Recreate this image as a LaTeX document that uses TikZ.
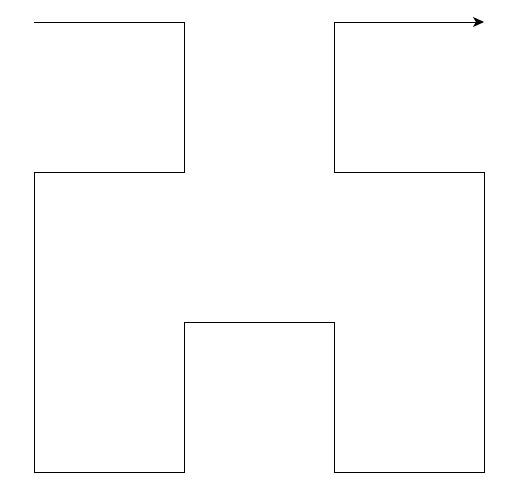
\documentclass[tikz,border=0pt]{standalone}
\usetikzlibrary{arrows.meta}
\begin{document}
\begin{tikzpicture}[x=1pt,y=-1pt,
  curve/.style={line width=1pt,line join=miter,-{Stealth[length=11pt,width=10pt,inset=3pt]}}]
\useasboundingbox (0,0) rectangle (524,493);
\coordinate (p0) at (34,22);
\coordinate (p1) at (184,22);
\coordinate (p2) at (184,172);
\coordinate (p3) at (34,172);
\coordinate (p4) at (34,472);
\coordinate (p5) at (184,472);
\coordinate (p6) at (184,322);
\coordinate (p7) at (334,322);
\coordinate (p8) at (334,472);
\coordinate (p9) at (484,472);
\coordinate (p10) at (484,172);
\coordinate (p11) at (334,172);
\coordinate (p12) at (334,22);
\coordinate (p13) at (484,22);
\draw[curve] (p0) -- (p1) -- (p2) -- (p3) -- (p4) -- (p5) -- (p6) -- (p7) -- (p8) -- (p9) -- (p10) -- (p11) -- (p12) -- (p13);
\end{tikzpicture}
\end{document}
